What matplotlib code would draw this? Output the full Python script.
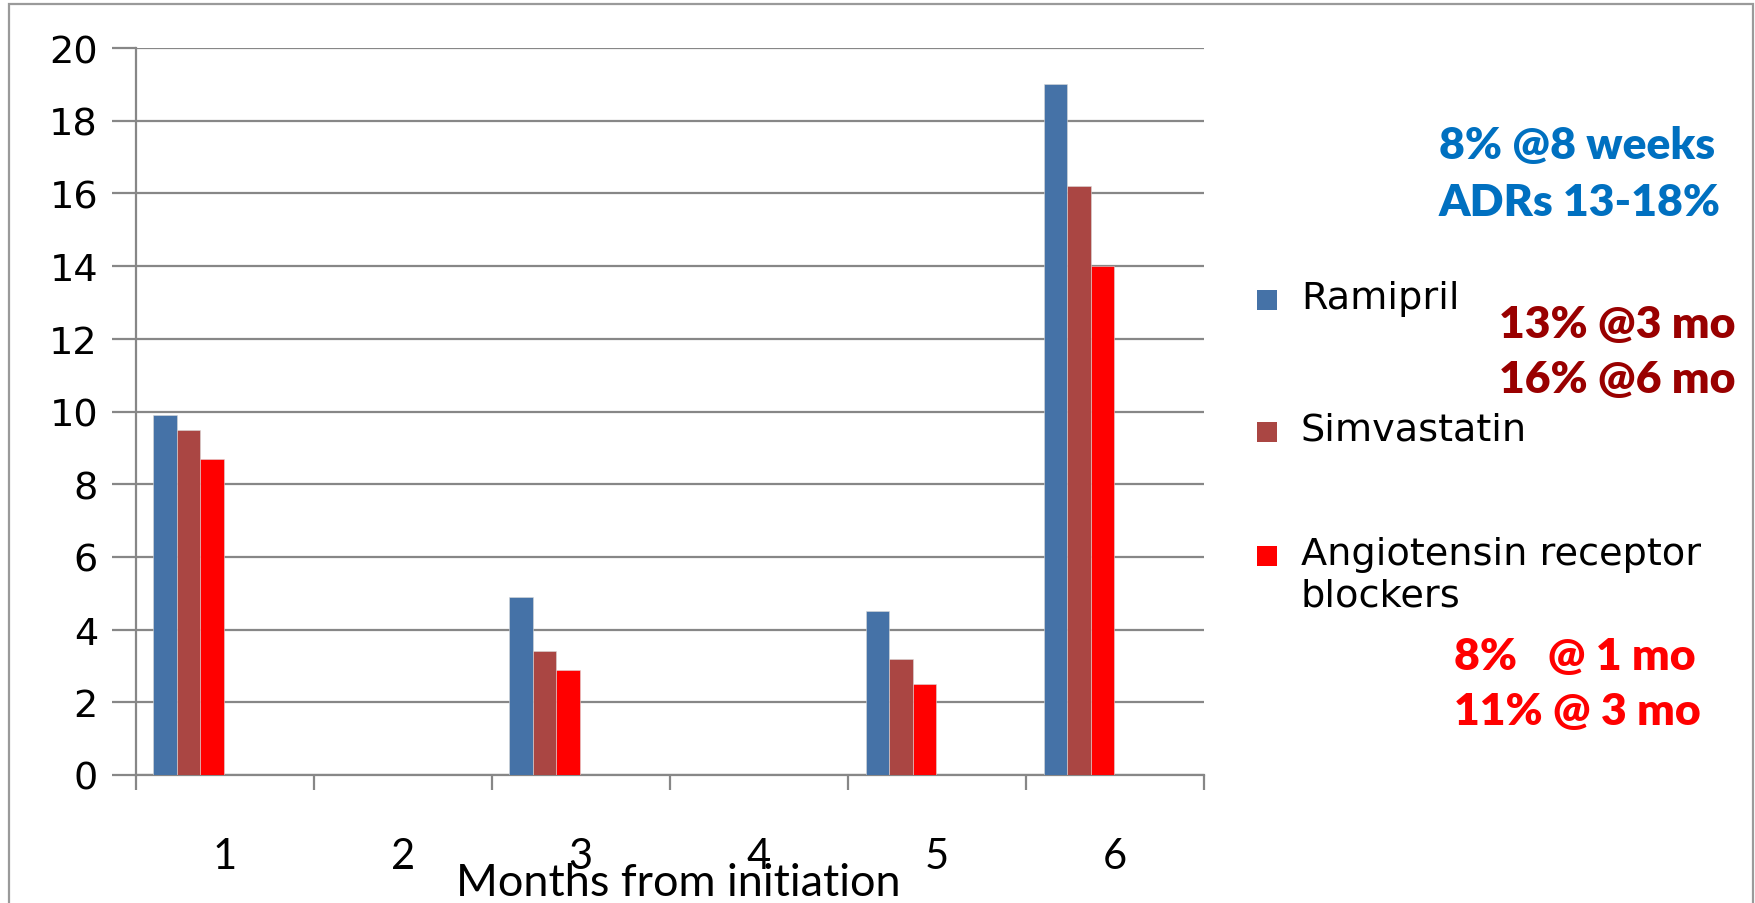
import matplotlib.pyplot as plt
from matplotlib.patches import Rectangle

months = [1, 2, 3, 4, 5, 6]
ramipril = [9.9, 0, 4.9, 0, 4.5, 19.0]
simvastatin = [9.5, 0, 3.4, 0, 3.2, 16.2]
arb = [8.7, 0, 2.9, 0, 2.5, 14.0]
series_names = ['Ramipril', 'Simvastatin', 'Angiotensin receptor\nblockers']
colors = ['#4572A7', '#AA4643', '#FF0000']
yticks = list(range(0, 21, 2))

W, H = 1756, 904
fig = plt.figure(figsize=(W / 100, H / 100), dpi=100)
ax = fig.add_axes([135.5 / W, 1 - 776 / H, (1204 - 135.5) / W, (776 - 49) / H])

grey = '#878787'
bw = 0.132
for k, (vals, c) in enumerate(zip([ramipril, simvastatin, arb], colors)):
    xs = [m - 0.5 + 0.1 + (k + 0.5) * bw for m in months]
    ax.bar(xs, vals, width=bw, color=c, edgecolor='#d9d9d9', linewidth=0.4, zorder=3)

ax.set_xlim(0.5, 6.5)
ax.set_ylim(0, 20)
ax.set_yticks(yticks)
ax.set_yticklabels([str(v) for v in yticks], fontsize=27.5, family='DejaVu Sans')
ax.tick_params(axis='y', length=17, width=1.6, color=grey, pad=10)
ax.yaxis.grid(True, color=grey, linewidth=1.6, zorder=0)

# category labels in the middle, tick marks on the boundaries
ax.set_xticks(months)
ax.set_xticklabels([str(m) for m in months], fontsize=30, family='Lato')
ax.tick_params(axis='x', which='major', length=0, pad=45)
ax.set_xticks([m + 0.5 for m in [0] + months], minor=True)
ax.tick_params(axis='x', which='minor', length=11, width=1.6, color=grey)

for s in ['top', 'right']:
    ax.spines[s].set_visible(False)
for s in ['left', 'bottom']:
    ax.spines[s].set_color(grey)
    ax.spines[s].set_linewidth(1.6)

fig.text(678 / W, 1 - 884 / H, 'Months from initiation', fontsize=32.5,
         family='Lato', ha='center', va='center')

# legend drawn by hand to the right of the plot
leg_y = [301, 433, 557]
for name, c, y in zip(series_names, colors, leg_y):
    fig.patches.append(Rectangle((1257 / W, 1 - (y + 10) / H), 20 / W, 20 / H,
                                 transform=fig.transFigure, facecolor=c))
    fig.text(1301 / W, 1 - (y - 20) / H, name, fontsize=27.5, family='DejaVu Sans',
             ha='left', va='top', linespacing=1.2)

notes = [
    ('8% @8 weeks', 1439, 146, '#0070C0'),
    ('ADRs 13-18%', 1439, 203, '#0070C0'),
    ('13% @3 mo', 1499, 325, '#990000'),
    ('16% @6 mo', 1499, 380, '#990000'),
    ('8%   @ 1 mo', 1454, 657, '#FF0000'),
    ('11% @ 3 mo', 1454, 712, '#FF0000'),
]
for txt, x, y, c in notes:
    fig.text(x / W, 1 - y / H, txt, fontsize=32, family='Lato', fontweight='heavy',
             color=c, ha='left', va='center')

# outer frame
fig.patches.append(Rectangle((9 / W, -0.05), (1753 - 9) / W, 1 - 5 / H + 0.05,
                             transform=fig.transFigure, fill=False,
                             edgecolor='#9a9a9a', linewidth=1.6))

fig.savefig('out.png', dpi=100)
